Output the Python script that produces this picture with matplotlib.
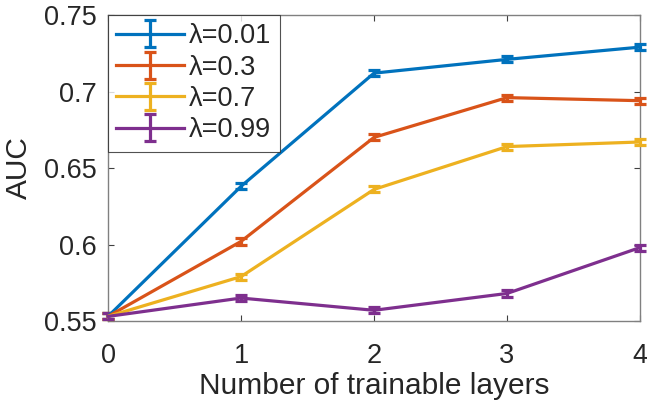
import numpy as np
import matplotlib
matplotlib.use("Agg")
import matplotlib.pyplot as plt

plt.rcParams["font.family"] = ["Liberation Sans", "DejaVu Sans"]

layers = [0, 1, 2, 3, 4]
labels = ["λ=0.01", "λ=0.3", "λ=0.7", "λ=0.99"]
auc_001 = [0.553, 0.638, 0.712, 0.721, 0.729]
auc_03 = [0.553, 0.602, 0.670, 0.696, 0.694]
auc_07 = [0.553, 0.579, 0.636, 0.664, 0.667]
auc_099 = [0.553, 0.565, 0.557, 0.568, 0.598]
err_001 = [0.002, 0.002, 0.002, 0.002, 0.002]
err_03 = [0.002, 0.002, 0.002, 0.002, 0.002]
err_07 = [0.002, 0.002, 0.002, 0.002, 0.002]
err_099 = [0.002, 0.002, 0.002, 0.002, 0.002]
colors = ["#0072BD", "#D95319", "#EDB120", "#7E2F8E"]

text_color = "#262626"

fig = plt.figure(figsize=(6.47, 4.07), dpi=100)
ax = fig.add_axes([108 / 647, 1 - 321 / 407, (640 - 108) / 647, (321 - 15) / 407])

series = [auc_001, auc_03, auc_07, auc_099]
errors = [err_001, err_03, err_07, err_099]
for vals, errs, lab, col in zip(series, errors, labels, colors):
    ax.errorbar(layers, vals, yerr=errs, color=col, lw=2.3, elinewidth=2.3,
                capsize=4.5, capthick=2.3, label=lab, clip_on=False, zorder=3)

ax.set_xlim(0, 4)
ax.set_ylim(0.55, 0.75)
ax.set_xticks([0, 1, 2, 3, 4])
ax.set_yticks([0.55, 0.6, 0.65, 0.7, 0.75])
ax.set_yticklabels(["0.55", "0.6", "0.65", "0.7", "0.75"])

for s in ax.spines.values():
    s.set_color("#808080")
    s.set_linewidth(1.0)
ax.tick_params(direction="in", length=4, width=0.8, color="#404040",
               labelsize=19.5, labelcolor=text_color, top=True, right=True)
ax.tick_params(axis="x", pad=16)
ax.tick_params(axis="y", pad=8)

ax.set_xlabel("Number of trainable layers", fontsize=21.5, color=text_color, labelpad=2)
ax.set_ylabel("AUC", fontsize=21.5, color=text_color, labelpad=8)

leg = ax.legend(loc="upper left", bbox_to_anchor=(0, 1), fontsize=19.5,
                frameon=True, fancybox=False, borderaxespad=0,
                handlelength=2.5, handletextpad=0.2, labelspacing=0.2,
                borderpad=0.3)
leg.get_frame().set_edgecolor("#262626")
leg.get_frame().set_linewidth(0.8)
for t in leg.get_texts():
    t.set_color(text_color)

fig.savefig("out.png", dpi=100)
